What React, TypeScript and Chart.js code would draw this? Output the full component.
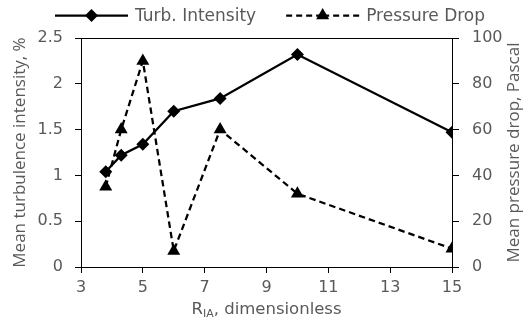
import React, { useEffect, useRef } from 'react';
import { Chart, registerables } from 'chart.js';

Chart.register(...registerables);

// ---- data ----
const xValues = [3.8, 4.3, 5, 6, 7.5, 10, 15];
const turbIntensity = [1.04, 1.22, 1.34, 1.7, 1.84, 2.32, 1.47];
const pressureDrop = [35, 60, 90, 7, 60, 32, 8];
const seriesLabels = ['Turb. Intensity', 'Pressure Drop'];
const xAxisRange = [3, 15, 2];
const yLeftRange = [0, 2.5, 0.5];
const yRightRange = [0, 100, 20];
const xTitleParts = ['R', 'IA', ', dimensionless'];
const yLeftTitle = 'Mean turbulence intensity, %';
const yRightTitle = 'Mean pressure drop, Pascal';

const W = 523;
const H = 320;
const FONT = '"DejaVu Sans", sans-serif';
const VFONT = '"Open Sans", sans-serif';
const GRAY = '#595959';

const fmt = (v: number | string) => String(Math.round(Number(v) * 100) / 100);

function drawMarker(ctx: CanvasRenderingContext2D, style: string, x: number, y: number, r: number) {
  ctx.beginPath();
  if (style === 'triangle') {
    ctx.moveTo(x, y - r);
    ctx.lineTo(x + r * Math.sin(Math.PI / 3), y + r * 0.5);
    ctx.lineTo(x - r * Math.sin(Math.PI / 3), y + r * 0.5);
  } else {
    ctx.moveTo(x, y - r);
    ctx.lineTo(x + r, y);
    ctx.lineTo(x, y + r);
    ctx.lineTo(x - r, y);
  }
  ctx.closePath();
  ctx.fillStyle = '#000';
  ctx.fill();
}

const decorPlugin = {
  id: 'decor',
  afterDraw(chart: any) {
    const ctx: CanvasRenderingContext2D = chart.ctx;
    const { left, right, top, bottom } = chart.chartArea;
    ctx.save();
    // top border of plot box
    ctx.strokeStyle = '#000';
    ctx.lineWidth = 1;
    ctx.beginPath();
    ctx.moveTo(left, top + 0.5);
    ctx.lineTo(right, top + 0.5);
    ctx.stroke();

    // x title with subscript
    ctx.fillStyle = GRAY;
    ctx.textBaseline = 'alphabetic';
    ctx.textAlign = 'left';
    const mainFont = `16.5px ${FONT}`;
    const subFont = `11px ${FONT}`;
    ctx.font = mainFont;
    const w0 = ctx.measureText(xTitleParts[0]).width;
    const w2 = ctx.measureText(xTitleParts[2]).width;
    ctx.font = subFont;
    const w1 = ctx.measureText(xTitleParts[1]).width;
    const total = w0 + w1 + w2;
    let x = (left + right) / 2 - total / 2;
    const by = 313.5;
    ctx.font = mainFont;
    ctx.fillText(xTitleParts[0], x, by);
    x += w0;
    ctx.font = subFont;
    ctx.fillText(xTitleParts[1], x, by + 3.5);
    x += w1;
    ctx.font = mainFont;
    ctx.fillText(xTitleParts[2], x, by);

    // vertical titles
    const cy = (top + bottom) / 2;
    ctx.font = `17px ${VFONT}`;
    ctx.textAlign = 'center';
    ctx.save();
    ctx.translate(25, cy);
    ctx.rotate(-Math.PI / 2);
    ctx.fillText(yLeftTitle, 0, 0);
    ctx.restore();
    ctx.save();
    ctx.translate(519, cy);
    ctx.rotate(-Math.PI / 2);
    ctx.fillText(yRightTitle, 0, 0);
    ctx.restore();

    // legend
    const ly = 15.5;
    const lineLen = 73;
    let lx = 55;
    chart.data.datasets.forEach((ds: any) => {
      const mid = lx + lineLen / 2;
      ctx.strokeStyle = '#000';
      ctx.lineWidth = 2.25;
      ctx.setLineDash(ds.borderDash && ds.borderDash.length ? [6, 4] : []);
      ctx.beginPath();
      ctx.moveTo(lx, ly);
      ctx.lineTo(mid, ly);
      ctx.stroke();
      ctx.beginPath();
      ctx.moveTo(lx + lineLen, ly);
      ctx.lineTo(mid, ly);
      ctx.stroke();
      ctx.setLineDash([]);
      drawMarker(ctx, ds.pointStyle, mid, ly, ds.pointRadius);
      ctx.font = `17px ${FONT}`;
      ctx.fillStyle = GRAY;
      ctx.textAlign = 'left';
      ctx.textBaseline = 'middle';
      const tx = lx + lineLen + 7;
      ctx.fillText(ds.label, tx, ly + 1);
      lx = tx + ctx.measureText(ds.label).width + 30;
    });
    ctx.restore();
  },
};

export default function App() {
  const ref = useRef<HTMLCanvasElement>(null);
  useEffect(() => {
    if (!ref.current) return;
    const tickFont = { family: FONT, size: 16 };
    const chart = new Chart(ref.current, {
      type: 'line',
      data: {
        datasets: [
          {
            label: seriesLabels[0],
            data: xValues.map((x, i) => ({ x, y: turbIntensity[i] })),
            yAxisID: 'y',
            borderColor: '#000',
            backgroundColor: '#000',
            borderWidth: 2.25,
            pointStyle: 'rectRot',
            pointRadius: 6.5,
            pointBackgroundColor: '#000',
            pointBorderColor: '#000',
            pointBorderWidth: 0,
            tension: 0,
          },
          {
            label: seriesLabels[1],
            data: xValues.map((x, i) => ({ x, y: pressureDrop[i] })),
            yAxisID: 'y1',
            borderColor: '#000',
            backgroundColor: '#000',
            borderWidth: 2.25,
            borderDash: [6.5, 4],
            pointStyle: 'triangle',
            pointRadius: 7.5,
            pointBackgroundColor: '#000',
            pointBorderColor: '#000',
            pointBorderWidth: 0,
            tension: 0,
          },
        ],
      },
      options: {
        responsive: false,
        animation: false,
        events: [],
        layout: { padding: { top: 38, left: 0, right: 0, bottom: 0 } },
        plugins: { legend: { display: false }, tooltip: { enabled: false }, title: { display: false } },
        scales: {
          x: {
            type: 'linear',
            min: xAxisRange[0],
            max: xAxisRange[1],
            ticks: { stepSize: xAxisRange[2], color: GRAY, font: tickFont, padding: 5, maxRotation: 0, callback: fmt },
            grid: { display: true, drawOnChartArea: false, drawTicks: true, tickLength: 6, color: '#000', lineWidth: 1 },
            border: { display: true, color: '#000', width: 1 },
            afterFit: (s: any) => { s.height = 53; },
          },
          y: {
            type: 'linear',
            position: 'left',
            min: yLeftRange[0],
            max: yLeftRange[1],
            ticks: { stepSize: yLeftRange[2], color: GRAY, font: tickFont, padding: 12, callback: fmt },
            grid: { display: true, drawOnChartArea: false, drawTicks: true, tickLength: 6, color: '#000', lineWidth: 1 },
            border: { display: true, color: '#000', width: 1 },
            afterFit: (s: any) => { s.width = 81; },
          },
          y1: {
            type: 'linear',
            position: 'right',
            min: yRightRange[0],
            max: yRightRange[1],
            ticks: { stepSize: yRightRange[2], color: GRAY, font: tickFont, padding: 13, callback: fmt },
            grid: { display: true, drawOnChartArea: false, drawTicks: true, tickLength: 7, color: '#000', lineWidth: 1 },
            border: { display: true, color: '#000', width: 1 },
            afterFit: (s: any) => { s.width = 71; },
          },
        },
      },
      plugins: [decorPlugin],
    });
    return () => chart.destroy();
  }, []);
  return (
    <div style={{ position: 'absolute', left: 0, top: 0, width: W, height: H, background: '#fff' }}>
      <canvas ref={ref} width={W} height={H} style={{ width: W, height: H, display: 'block' }} />
    </div>
  );
}
